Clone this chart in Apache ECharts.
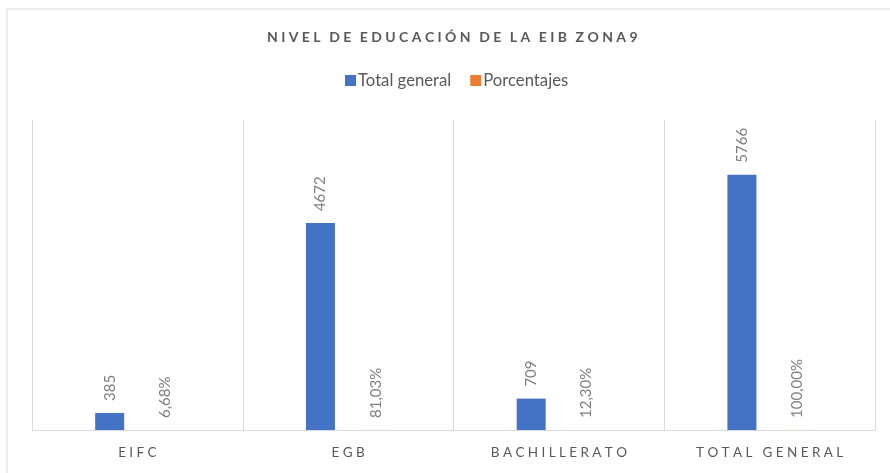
<!DOCTYPE html>
<html><head><meta charset="utf-8">
<script src="https://cdn.jsdelivr.net/npm/echarts@6/dist/echarts.min.js"></script>
<style>html,body{margin:0;padding:0;background:#fff}#c{width:890px;height:473px}</style>
</head><body><div id="c"></div>
<script>
const titleText = 'NIVEL DE EDUCACIÓN DE LA EIB ZONA9';
const categories = ['EIFC', 'EGB', 'BACHILLERATO', 'TOTAL GENERAL'];
const totalGeneral = [385, 4672, 709, 5766];
const porcentajes = [0.0668, 0.8103, 0.1230, 1.0000];
const seriesNames = ['Total general', 'Porcentajes'];

function spaced(s, sep, wordSep) { return s.split(' ').map(w => w.split('').join(sep)).join(wordSep); }
function pct(v) { return (v * 100).toFixed(2).replace('.', ',') + '%'; }

const chart = echarts.init(document.getElementById('c'), null, {renderer: 'canvas'});
const labelCommon = {
  show: true, position: 'top', rotate: 90, align: 'left', verticalAlign: 'middle',
  distance: 12, color: '#7f7f7f', fontFamily: 'Lato', fontSize: 15
};
const ts = '\u2009\u2009';
chart.setOption({
  animation: false,
  textStyle: {fontFamily: 'Lato'},
  graphic: [{type: 'rect', shape: {x: 7, y: 9, width: 900, height: 500}, style: {fill: 'none', stroke: '#d9d9d9', lineWidth: 1}, silent: true}],
  title: {
    text: spaced(titleText, ' ', '  \u2009'), left: 262, top: 25,
    textStyle: {fontFamily: 'Lato', fontWeight: 'bold', fontSize: 14, color: '#595959'}
  },
  legend: {
    data: seriesNames, top: 67, left: 340, itemWidth: 11, itemHeight: 11, itemGap: 19,
    icon: 'rect', textStyle: {fontFamily: 'Lato', fontSize: 16.7, color: '#595959', padding: [0, 0, 0, -3]}
  },
  grid: {left: 32, right: 15, top: 120, bottom: 43, containLabel: false},
  xAxis: {
    type: 'category', data: categories,
    axisLine: {lineStyle: {color: '#d9d9d9'}},
    axisTick: {show: false},
    splitLine: {show: true, interval: 0, lineStyle: {color: '#d9d9d9'}},
    axisLabel: {interval: 0, margin: 16, color: '#595959', fontFamily: 'Lato', fontSize: 13.5, formatter: v => spaced(v, ts, ts + ' ' + ts)}
  },
  yAxis: {type: 'value', min: 0, max: 7000, show: false, splitLine: {show: false}},
  series: [
    {name: seriesNames[0], type: 'bar', data: totalGeneral, barWidth: 29, barGap: '91%',
     itemStyle: {color: '#4472C4'}, label: Object.assign({}, labelCommon)},
    {name: seriesNames[1], type: 'bar', data: porcentajes, barWidth: 29, barGap: '91%',
     itemStyle: {color: '#ED7D31'}, label: Object.assign({}, labelCommon, {formatter: p => pct(p.value)})}
  ]
});
</script></body></html>
